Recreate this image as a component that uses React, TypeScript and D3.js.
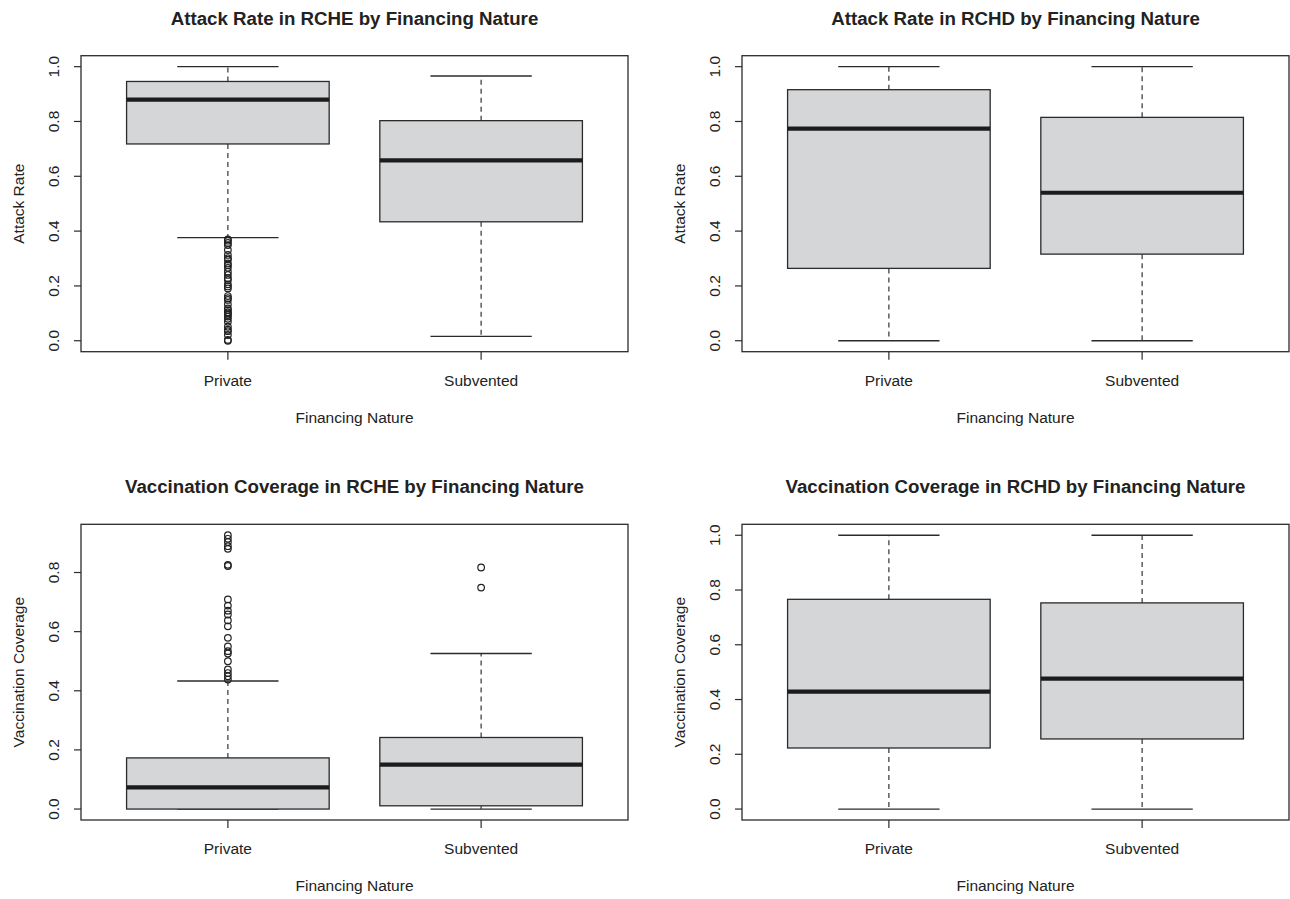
import * as d3 from "d3";
import { useEffect, useRef } from "react";

const groups = ["Private", "Subvented"];

// five-number summaries per group: [lower whisker, Q1, median, Q3, upper whisker]
const rcheAttackStats = [
    [0.376, 0.718, 0.880, 0.946, 1.0],
    [0.016, 0.434, 0.658, 0.803, 0.966]
];
const rcheAttackOutliers = [
    [0.370, 0.365, 0.357, 0.349, 0.331, 0.313, 0.301, 0.296, 0.282, 0.275, 0.266, 0.252, 0.240,
        0.228, 0.222, 0.206, 0.198, 0.191, 0.163, 0.155, 0.149, 0.133, 0.118, 0.112, 0.104, 0.100,
        0.095, 0.088, 0.080, 0.069, 0.051, 0.040, 0.035, 0.021, 0.003, 0.0],
    []
];

const rchdAttackStats = [
    [0.0, 0.264, 0.774, 0.916, 1.0],
    [0.0, 0.316, 0.540, 0.815, 1.0]
];
const rchdAttackOutliers = [[], []];

const rcheVaccStats = [
    [0.0, 0.0, 0.073, 0.173, 0.433],
    [0.0, 0.011, 0.150, 0.242, 0.526]
];
const rcheVaccOutliers = [
    [0.926, 0.914, 0.903, 0.889, 0.880, 0.826, 0.822, 0.709, 0.688, 0.671, 0.658, 0.638, 0.618,
        0.579, 0.550, 0.534, 0.526, 0.500, 0.472, 0.460, 0.449, 0.438],
    [0.817, 0.749]
];

const rchdVaccStats = [
    [0.0, 0.223, 0.429, 0.766, 1.0],
    [0.0, 0.256, 0.476, 0.753, 1.0]
];
const rchdVaccOutliers = [[], []];

const ticksToOne = [0, 0.2, 0.4, 0.6, 0.8, 1.0];
const ticksToEight = [0, 0.2, 0.4, 0.6, 0.8];

const panels = [
    { title: "Attack Rate in RCHE by Financing Nature", yLabel: "Attack Rate", stats: rcheAttackStats, outliers: rcheAttackOutliers, ticks: ticksToOne, x0: 81, x1: 628, y0: 55.7, y1: 351.7 },
    { title: "Attack Rate in RCHD by Financing Nature", yLabel: "Attack Rate", stats: rchdAttackStats, outliers: rchdAttackOutliers, ticks: ticksToOne, x0: 742, x1: 1289, y0: 55.7, y1: 351.7 },
    { title: "Vaccination Coverage in RCHE by Financing Nature", yLabel: "Vaccination Coverage", stats: rcheVaccStats, outliers: rcheVaccOutliers, ticks: ticksToEight, x0: 81, x1: 628, y0: 524.3, y1: 820 },
    { title: "Vaccination Coverage in RCHD by Financing Nature", yLabel: "Vaccination Coverage", stats: rchdVaccStats, outliers: rchdVaccOutliers, ticks: ticksToOne, x0: 742, x1: 1289, y0: 524.3, y1: 820 }
];

const FONT = "'Liberation Sans', Arial, Helvetica, sans-serif";
const INK = "#222";
const LABEL_SIZE = 15.5;
const TITLE_SIZE = 18.7;

const drawPanel = (g, p) => {
    const x = d3.scaleLinear().domain([0.42, 2.58]).range([p.x0, p.x1]);
    const all = p.stats.flat().concat(p.outliers.flat());
    const lo = d3.min(all), hi = d3.max(all);
    const pad = (hi - lo) * 0.04;
    const y = d3.scaleLinear().domain([lo - pad, hi + pad]).range([p.y1, p.y0]);
    const fmt = d3.format(".1f");

    const box = g.selectAll("g.box")
        .data(p.stats)
        .enter()
        .append("g")
        .attr("class", "box");

    // whiskers (dashed)
    box.append("line")
        .attr("x1", (d, i) => x(i + 1)).attr("x2", (d, i) => x(i + 1))
        .attr("y1", d => y(d[3])).attr("y2", d => y(d[4]))
        .attr("stroke", "#333").attr("stroke-width", 1.2).attr("stroke-dasharray", "5,4");
    box.append("line")
        .attr("x1", (d, i) => x(i + 1)).attr("x2", (d, i) => x(i + 1))
        .attr("y1", d => y(d[1])).attr("y2", d => y(d[0]))
        .attr("stroke", "#333").attr("stroke-width", 1.2).attr("stroke-dasharray", "5,4");

    // staples
    box.append("line")
        .attr("x1", (d, i) => x(i + 0.8)).attr("x2", (d, i) => x(i + 1.2))
        .attr("y1", d => y(d[4])).attr("y2", d => y(d[4]))
        .attr("stroke", "#2b2b2b").attr("stroke-width", 1.3);
    box.append("line")
        .attr("x1", (d, i) => x(i + 0.8)).attr("x2", (d, i) => x(i + 1.2))
        .attr("y1", d => y(d[0])).attr("y2", d => y(d[0]))
        .attr("stroke", "#2b2b2b").attr("stroke-width", 1.3);

    box.append("rect")
        .attr("x", (d, i) => x(i + 0.6))
        .attr("width", (d, i) => x(i + 1.4) - x(i + 0.6))
        .attr("y", d => y(d[3]))
        .attr("height", d => y(d[1]) - y(d[3]))
        .attr("fill", "#d5d6d8")
        .attr("stroke", "#2b2b2b")
        .attr("stroke-width", 1.3);

    box.append("line")
        .attr("x1", (d, i) => x(i + 0.6)).attr("x2", (d, i) => x(i + 1.4))
        .attr("y1", d => y(d[2])).attr("y2", d => y(d[2]))
        .attr("stroke", "#1c1c1c").attr("stroke-width", 4.2);

    // outliers
    p.outliers.forEach((vals, i) => {
        g.selectAll(null)
            .data(vals)
            .enter()
            .append("circle")
            .attr("cx", x(i + 1))
            .attr("cy", d => y(d))
            .attr("r", 3.3)
            .attr("fill", "none")
            .attr("stroke", INK)
            .attr("stroke-width", 1.2);
    });

    // frame
    g.append("rect")
        .attr("x", p.x0).attr("y", p.y0)
        .attr("width", p.x1 - p.x0).attr("height", p.y1 - p.y0)
        .attr("fill", "none").attr("stroke", "#2b2b2b").attr("stroke-width", 1.3);

    // y axis ticks + labels
    g.selectAll("line.ytick")
        .data(p.ticks)
        .enter()
        .append("line")
        .attr("class", "ytick")
        .attr("x1", p.x0 - 7).attr("x2", p.x0)
        .attr("y1", d => y(d)).attr("y2", d => y(d))
        .attr("stroke", "#2b2b2b").attr("stroke-width", 1.2);
    g.selectAll("text.ylab")
        .data(p.ticks)
        .enter()
        .append("text")
        .attr("class", "ylab")
        .attr("transform", d => `translate(${p.x0 - 22},${y(d)}) rotate(-90)`)
        .attr("text-anchor", "middle")
        .attr("font-size", LABEL_SIZE)
        .attr("fill", INK)
        .text(d => fmt(d));

    // x axis ticks + labels
    g.selectAll("line.xtick")
        .data(groups)
        .enter()
        .append("line")
        .attr("class", "xtick")
        .attr("x1", (d, i) => x(i + 1)).attr("x2", (d, i) => x(i + 1))
        .attr("y1", p.y1).attr("y2", p.y1 + 8)
        .attr("stroke", "#2b2b2b").attr("stroke-width", 1.2);
    g.selectAll("text.xlab")
        .data(groups)
        .enter()
        .append("text")
        .attr("class", "xlab")
        .attr("x", (d, i) => x(i + 1))
        .attr("y", p.y1 + 34)
        .attr("text-anchor", "middle")
        .attr("font-size", LABEL_SIZE)
        .attr("fill", INK)
        .text(d => d);

    const cx = (p.x0 + p.x1) / 2;
    g.append("text")
        .attr("x", cx).attr("y", p.y1 + 71)
        .attr("text-anchor", "middle")
        .attr("font-size", LABEL_SIZE)
        .attr("fill", INK)
        .text("Financing Nature");

    g.append("text")
        .attr("transform", `translate(${p.x0 - 57},${(p.y0 + p.y1) / 2}) rotate(-90)`)
        .attr("text-anchor", "middle")
        .attr("font-size", LABEL_SIZE)
        .attr("fill", INK)
        .text(p.yLabel);

    g.append("text")
        .attr("x", cx).attr("y", p.y0 - 31)
        .attr("text-anchor", "middle")
        .attr("font-size", TITLE_SIZE)
        .attr("font-weight", "bold")
        .attr("fill", INK)
        .text(p.title);
};

export default function App() {
    const ref = useRef(null);

    useEffect(() => {
        const svg = d3.select(ref.current);
        svg.selectAll("*").remove();
        svg.append("rect").attr("width", 1290).attr("height", 899).attr("fill", "#fff");
        panels.forEach(p => drawPanel(svg.append("g"), p));
    }, []);

    return (
        <svg
            ref={ref}
            width={1290}
            height={899}
            style={{ position: "absolute", left: 0, top: 0, fontFamily: FONT, display: "block" }}
        />
    );
}
